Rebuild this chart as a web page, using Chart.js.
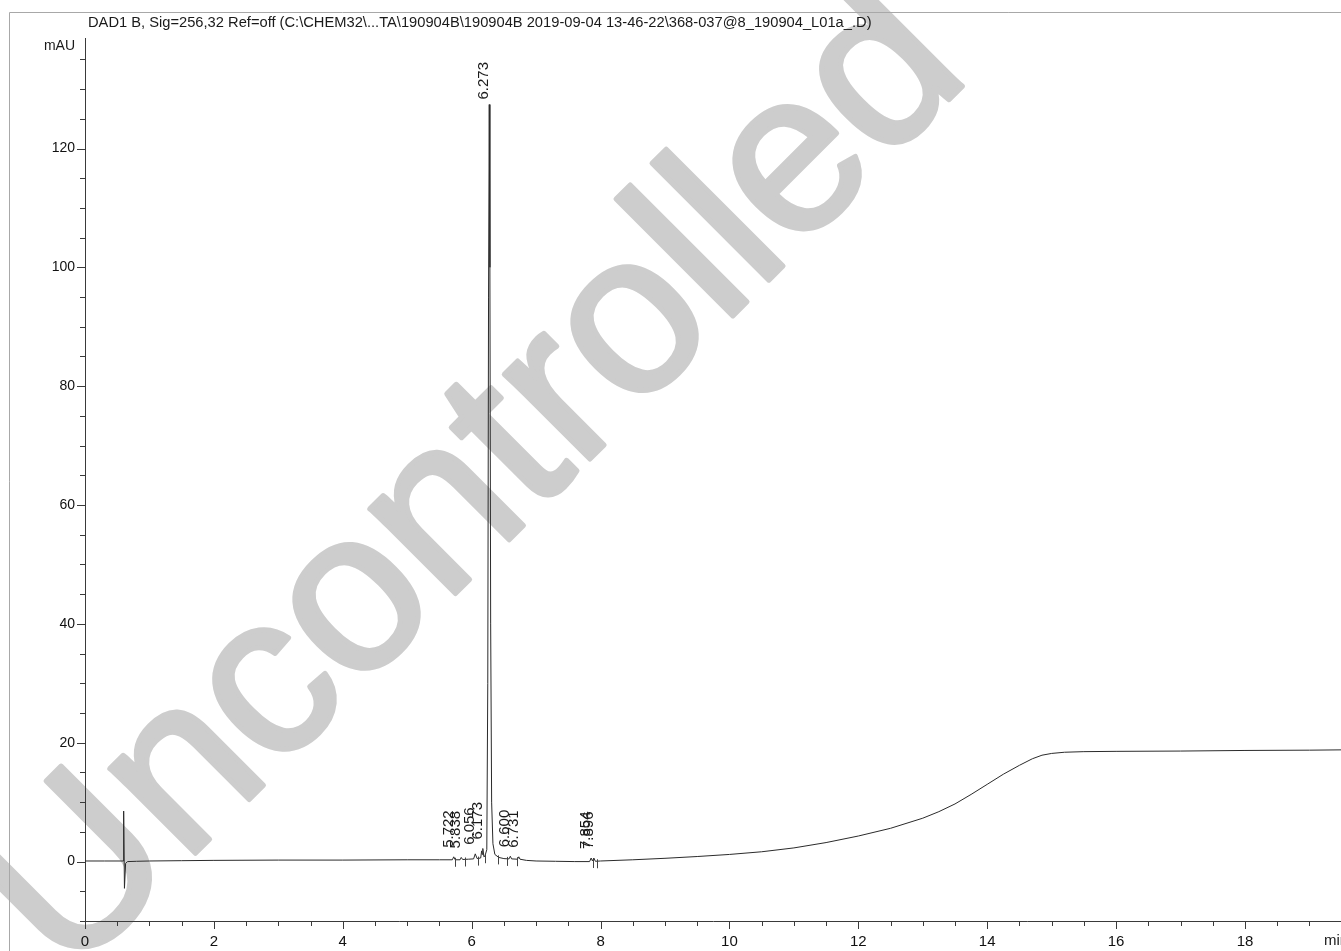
<!DOCTYPE html>
<html>
<head>
<meta charset="utf-8">
<title>DAD1 B chromatogram</title>
<script src="https://cdn.jsdelivr.net/npm/chart.js@4.4.1/dist/chart.umd.min.js"></script>
<style>
  html, body { margin: 0; padding: 0; background: #fff; overflow: hidden; }
  #wrap { width: 1341px; height: 951px; position: relative; }
</style>
</head>
<body>
<div id="wrap"><canvas id="chrom" width="1341" height="951"></canvas></div>
<script>
// Detector trace: retention time (min) and absorbance (mAU)
const timeMin = [
  0, 0.3, 0.59, 0.600, 0.612, 0.63, 0.66, 0.8, 1.0, 1.5, 2.0, 3.0, 4.0, 5.0, 5.5,
  5.70, 5.722, 5.745, 5.82, 5.838, 5.86, 5.95, 6.03, 6.056, 6.085, 6.14, 6.155, 6.165,
  6.173, 6.19, 6.205, 6.235, 6.250, 6.262, 6.273, 6.283, 6.295, 6.31, 6.33, 6.36,
  6.42, 6.50, 6.58, 6.600, 6.62, 6.71, 6.731, 6.75, 6.85, 7.0, 7.3, 7.6, 7.83,
  7.854, 7.875, 7.896, 7.92, 8.0, 8.5, 9.0, 9.5, 10.0, 10.5, 11.0, 11.5, 12.0,
  12.5, 13.0, 13.25, 13.5, 13.75, 14.0, 14.25, 14.5, 14.7, 14.85, 15.0, 15.2, 15.5,
  16.0, 17.0, 18.0, 19.0, 19.49
];
const signalMAU = [
  0.1, 0.1, 0.1, 8.5, -4.5, -0.3, 0.0, 0.05, 0.1, 0.15, 0.2, 0.25, 0.25, 0.3, 0.3,
  0.3, 0.8, 0.3, 0.3, 0.7, 0.35, 0.4, 0.45, 1.3, 0.5, 0.6, 1.8, 1.2,
  2.2, 0.8, 0.9, 2.0, 30, 95, 127.4, 100, 40, 10, 3, 1.2,
  0.7, 0.5, 0.45, 0.9, 0.45, 0.4, 0.8, 0.4, 0.2, 0.1, 0.05, 0.0, 0.0,
  0.6, 0.1, 0.6, 0.05, 0.1, 0.3, 0.55, 0.85, 1.2, 1.65, 2.3, 3.2, 4.3,
  5.6, 7.3, 8.4, 9.7, 11.3, 13.0, 14.7, 16.2, 17.3, 17.9, 18.2, 18.4, 18.5,
  18.55, 18.6, 18.7, 18.75, 18.8
];

// Integrated peaks (retention times printed above each apex)
const peakTimes = [5.722, 5.838, 6.056, 6.173, 6.273, 6.600, 6.731, 7.854, 7.896];
const peakLabels = ['5.722', '5.838', '6.056', '6.173', '6.273', '6.600', '6.731', '7.854', '7.896'];

// Integration baseline start/stop markers (min)
const markTimes = [5.74, 5.90, 6.10, 6.21, 6.41, 6.55, 6.70, 7.88, 7.94];

// Axis tick labels
const xTickValues = [0, 2, 4, 6, 8, 10, 12, 14, 16, 18];
const yTickValues = [0, 20, 40, 60, 80, 100, 120];

const titleText = 'DAD1 B, Sig=256,32 Ref=off (C:\\CHEM32\\...TA\\190904B\\190904B 2019-09-04 13-46-22\\368-037@8_190904_L01a_.D)';
const FONT = '"Liberation Sans", Arial, Helvetica, sans-serif';
const AXIS_COLOR = '#3a3a3a';

function signalAt(t) {
  for (let i = 0; i < timeMin.length; i++) {
    if (Math.abs(timeMin[i] - t) < 1e-9) return signalMAU[i];
  }
  for (let i = 1; i < timeMin.length; i++) {
    if (timeMin[i] >= t) return Math.min(signalMAU[i - 1], signalMAU[i]);
  }
  return signalMAU[signalMAU.length - 1];
}

const watermark = {
  id: 'watermark',
  beforeDraw(chart) {
    const ctx = chart.ctx;
    ctx.save();
    ctx.fillStyle = '#ffffff';
    ctx.fillRect(0, 0, chart.width, chart.height);
    ctx.translate(476, 484);
    ctx.rotate(-Math.PI / 4);
    ctx.font = '228px ' + FONT;
    ctx.fillStyle = '#cdcdcd';
    ctx.strokeStyle = '#cdcdcd';
    ctx.lineWidth = 5;
    ctx.lineJoin = 'round';
    ctx.textAlign = 'center';
    ctx.textBaseline = 'middle';
    ctx.fillText('Uncontrolled', 0, 0);
    ctx.strokeText('Uncontrolled', 0, 0);
    ctx.restore();
  }
};

const decorations = {
  id: 'decorations',
  afterDraw(chart) {
    const ctx = chart.ctx;
    const xs = chart.scales.x;
    const ys = chart.scales.y;
    const area = chart.chartArea;
    ctx.save();

    // outer frame
    ctx.strokeStyle = '#a8a8a8';
    ctx.lineWidth = 1;
    ctx.beginPath();
    ctx.moveTo(9.5, 951);
    ctx.lineTo(9.5, 12.5);
    ctx.lineTo(1341, 12.5);
    ctx.stroke();

    // axis tick marks
    ctx.strokeStyle = AXIS_COLOR;
    ctx.beginPath();
    for (let v = 0; v <= xs.max + 1e-9; v += 0.5) {
      const px = Math.round(xs.getPixelForValue(v)) + 0.5;
      const major = Math.abs(v / 2 - Math.round(v / 2)) < 1e-9;
      ctx.moveTo(px, area.bottom);
      ctx.lineTo(px, area.bottom + (major ? 8 : 5));
    }
    for (let v = -10; v <= ys.max + 1e-9; v += 5) {
      const py = Math.round(ys.getPixelForValue(v)) + 0.5;
      const major = v % 20 === 0;
      ctx.moveTo(area.left, py);
      ctx.lineTo(area.left - (major ? 8 : 5), py);
    }
    ctx.stroke();

    // integration markers
    ctx.strokeStyle = '#444';
    ctx.beginPath();
    markTimes.forEach(t => {
      const px = Math.round(xs.getPixelForValue(t)) + 0.5;
      const py = ys.getPixelForValue(signalAt(t));
      ctx.moveTo(px, py - 2);
      ctx.lineTo(px, py + 7);
    });
    ctx.stroke();

    // texts
    ctx.fillStyle = '#1a1a1a';
    ctx.font = '14.7px ' + FONT;
    ctx.textAlign = 'left';
    ctx.textBaseline = 'alphabetic';
    ctx.fillText(titleText, 88, 27);
    ctx.font = '14px ' + FONT;
    ctx.textAlign = 'right';
    ctx.fillText('mAU', 75, 50);
    ctx.font = '15px ' + FONT;
    ctx.textAlign = 'left';
    ctx.textBaseline = 'top';
    ctx.fillText('min', 1324, area.bottom + 12);

    // peak retention-time labels
    ctx.font = '15px ' + FONT;
    ctx.textAlign = 'left';
    ctx.textBaseline = 'alphabetic';
    peakTimes.forEach((t, i) => {
      const px = xs.getPixelForValue(t);
      const py = ys.getPixelForValue(signalAt(t));
      const gap = signalAt(t) > 20 ? 5 : 9;
      ctx.save();
      ctx.translate(px - 1, py - gap);
      ctx.rotate(-Math.PI / 2);
      ctx.fillText(peakLabels[i], 0, 0);
      ctx.restore();
    });
    ctx.restore();
  }
};

const points = timeMin.map((t, i) => ({ x: t, y: signalMAU[i] }));

new Chart(document.getElementById('chrom'), {
  type: 'line',
  data: {
    datasets: [{
      data: points,
      borderColor: '#2b2b2b',
      borderWidth: 1,
      pointRadius: 0,
      tension: 0,
      fill: false
    }]
  },
  options: {
    responsive: false,
    animation: false,
    devicePixelRatio: 1,
    layout: { padding: { top: 38, left: 0, right: 0, bottom: 0 } },
    plugins: { legend: { display: false }, tooltip: { enabled: false }, title: { display: false } },
    scales: {
      x: {
        type: 'linear',
        min: 0,
        max: 19.49,
        afterFit(s) { s.height = 30; },
        afterBuildTicks(s) { s.ticks = xTickValues.map(v => ({ value: v })); },
        ticks: {
          callback: v => String(v),
          font: { size: 15, family: FONT },
          color: '#111',
          padding: 12,
          maxRotation: 0,
          autoSkip: false
        },
        grid: { display: false, drawTicks: false },
        border: { display: true, color: AXIS_COLOR, width: 1 }
      },
      y: {
        min: -10,
        max: 138.6,
        afterFit(s) { s.width = 85; },
        afterBuildTicks(s) { s.ticks = yTickValues.map(v => ({ value: v })); },
        ticks: {
          callback: v => String(v),
          font: { size: 14, family: FONT },
          color: '#111',
          padding: 10,
          autoSkip: false
        },
        grid: { display: false, drawTicks: false },
        border: { display: true, color: AXIS_COLOR, width: 1 }
      }
    }
  },
  plugins: [watermark, decorations]
});
</script>
</body>
</html>
